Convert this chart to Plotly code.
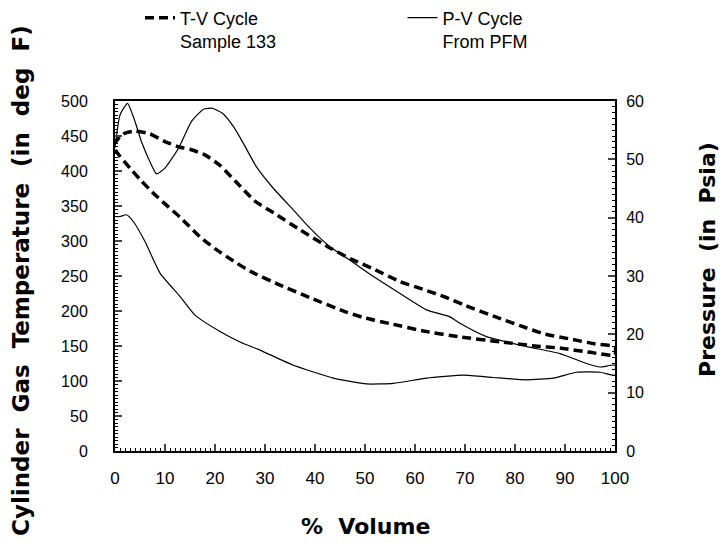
import plotly.graph_objects as go

# ---- data ----
tv_upper_x = [0, 1, 2, 4, 7, 10, 13, 15, 18, 21, 24, 28, 32, 37, 43, 47, 52, 57, 62, 66, 70, 76, 81, 86, 91, 96, 100]
tv_upper_t = [440, 449, 454, 457, 453, 442, 434, 431, 423, 408, 386, 357, 339, 316, 290, 275, 259, 242, 230, 220, 208, 192, 179, 167, 160, 153, 149]

tv_lower_x = [0, 1, 3, 5, 8, 10, 13, 17, 20, 24, 27, 33, 39, 46, 50, 55, 62, 69, 77, 84, 89, 95, 100]
tv_lower_t = [430, 421, 404, 388, 366, 353, 334, 306, 289, 270, 257, 237, 219, 199, 190, 182, 171, 163, 156, 150, 147, 141, 137]

pv_upper_x = [0, 1, 2.5, 4, 5.3, 7.3, 8.3, 10, 12.7, 15.3, 17.7, 19.5, 21.5, 23.7, 25.7, 28.3, 31.7, 35.7, 39, 43, 47, 51.7, 57, 62.3, 67, 69, 74.3, 82.3, 89, 94.3, 97, 100]
pv_upper_p = [52, 57.6, 59.6, 56.5, 53, 49, 47.5, 48.5, 51.9, 56.5, 58.6, 58.75, 57.9, 55.6, 52.7, 48.7, 45, 41.3, 38.2, 35, 32.7, 29.9, 27, 24.2, 23, 21.9, 19.6, 17.9, 16.7, 15, 14.4, 14.7]

pv_lower_x = [0, 1, 2.3, 3.7, 6, 9, 13, 16, 21, 25, 29, 35.7, 43.7, 50.3, 55.7, 62.3, 69.7, 75.7, 82.3, 87.7, 92.3, 97, 100]
pv_lower_p = [40.2, 40.2, 40.5, 39.3, 35.9, 30.5, 26.5, 23.3, 20.5, 18.7, 17.3, 14.7, 12.5, 11.5, 11.6, 12.5, 13, 12.6, 12.2, 12.5, 13.5, 13.5, 13]

x_ticks = [0, 10, 20, 30, 40, 50, 60, 70, 80, 90, 100]
t_ticks = [0, 50, 100, 150, 200, 250, 300, 350, 400, 450, 500]
p_ticks = [0, 10, 20, 30, 40, 50, 60]

tv_name = "T-V Cycle<br>Sample 133"
pv_name = "P-V Cycle<br>From PFM"

# closed loops: lower branch forward, upper branch back
tv_x = tv_lower_x + tv_upper_x[::-1]
tv_y = tv_lower_t + tv_upper_t[::-1]
pv_x = pv_lower_x + pv_upper_x[::-1]
pv_y = pv_lower_p + pv_upper_p[::-1]

NB = "\u00a0"

fig = go.Figure()
fig.add_trace(go.Scatter(
    x=tv_x, y=tv_y, mode="lines", name=tv_name,
    line=dict(color="black", width=3.5, dash="9px,5px", shape="spline", smoothing=0.5),
    yaxis="y", legend="legend",
))
fig.add_trace(go.Scatter(
    x=pv_x, y=pv_y, mode="lines", name=pv_name,
    line=dict(color="black", width=1.2, shape="spline", smoothing=0.5),
    yaxis="y2", legend="legend2",
))

tickfont = dict(family="Liberation Sans", size=16, color="black")
legfont = dict(family="Liberation Sans", size=18, color="black")

fig.update_layout(
    width=727, height=551,
    margin=dict(l=115, r=112, t=101, b=100, autoexpand=False),
    paper_bgcolor="white", plot_bgcolor="white",
    font=dict(family="Liberation Sans", size=16, color="black"),
    showlegend=True,
    legend=dict(
        orientation="h", x=0.05, y=1.29, xanchor="left", yanchor="top",
        valign="top", font=legfont, bgcolor="rgba(0,0,0,0)", borderwidth=0,
    ),
    legend2=dict(
        orientation="h", x=0.575, y=1.29, xanchor="left", yanchor="top",
        valign="top", font=legfont, bgcolor="rgba(0,0,0,0)", borderwidth=0,
    ),
    xaxis=dict(
        range=[0, 100], tickvals=x_ticks, ticks="inside", ticklen=7, tickwidth=1.5,
        showline=True, linewidth=2, linecolor="black", mirror=True,
        showgrid=False, zeroline=False, tickfont=dict(family="Liberation Sans", size=17, color="black"),
        ticklabelstandoff=11,
        minor=dict(dtick=1, ticks="inside", ticklen=3, tickwidth=1, tickcolor="black", showgrid=False),
    ),
    yaxis=dict(
        range=[0, 500], tickvals=t_ticks, ticks="inside", ticklen=7, tickwidth=1.5,
        showline=True, linewidth=2, linecolor="black",
        showgrid=False, zeroline=False, tickfont=tickfont, ticklabelstandoff=22,
        minor=dict(dtick=5, ticks="inside", ticklen=3, tickwidth=1, tickcolor="black", showgrid=False),
    ),
    yaxis2=dict(
        range=[0, 60], tickvals=p_ticks, overlaying="y", side="right",
        ticks="inside", ticklen=7, tickwidth=1.5,
        showline=True, linewidth=2, linecolor="black",
        showgrid=False, zeroline=False, tickfont=tickfont, ticklabelstandoff=6,
        minor=dict(dtick=1, ticks="inside", ticklen=3, tickwidth=1, tickcolor="black", showgrid=False),
    ),
    annotations=[
        dict(text=f"%{NB}{NB}Volume", xref="paper", yref="paper", x=0.5, y=-0.217,
             xanchor="center", yanchor="middle", showarrow=False,
             font=dict(family="DejaVu Sans", size=22, color="black", weight="bold")),
        dict(text=f"Cylinder{NB}{NB}Gas{NB}{NB}Temperature{NB}{NB}(in{NB}{NB}deg{NB}{NB}F)",
             xref="paper", yref="paper", x=-0.188, y=0.486, textangle=-90,
             xanchor="center", yanchor="middle", showarrow=False,
             font=dict(family="DejaVu Sans", size=23, color="black", weight="bold")),
        dict(text=f"Pressure{NB}{NB}(in{NB}{NB}Psia)",
             xref="paper", yref="paper", x=1.186, y=0.546, textangle=-90,
             xanchor="center", yanchor="middle", showarrow=False,
             font=dict(family="DejaVu Sans", size=22, color="black", weight="bold")),
    ],
)

fig.write_html("out.html")
